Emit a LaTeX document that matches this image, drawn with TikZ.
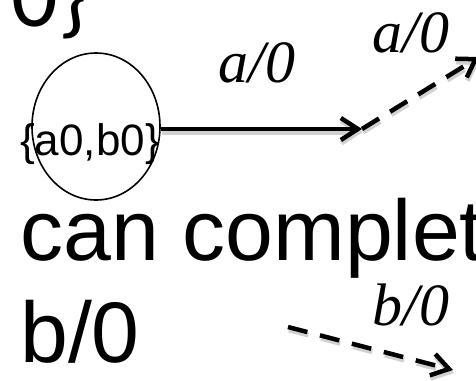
\documentclass[tikz,border=0pt]{standalone}
\usepackage{fontspec}
\setmainfont{Liberation Sans}
\newfontfamily\timesf{Liberation Serif}
\newfontfamily\calib{Carlito}
\usetikzlibrary{arrows.meta,shapes.geometric}

\tikzset{
  bigtext/.style={inner sep=0pt, font=\fontsize{86}{86}\selectfont},
  headtext/.style={inner sep=0pt, font=\fontsize{92}{92}\selectfont\calib},
  edgelabel/.style={inner sep=0pt, font=\fontsize{60}{60}\selectfont\timesf\itshape},
  statebox/.style={draw, ellipse, line width=1.6pt, minimum width=128pt, minimum height=147pt, inner sep=0pt},
  shade below/.style={preaction={draw=black!18, line width=5pt, transform canvas={shift={(1pt,-3pt)}}}},
  trans/.style={line width=4.5pt, -{Straight Barb[length=17pt,width=22pt]}},
  dashes/.style={dash pattern=on 20pt off 13pt},
  guess/.style={trans, dashes},
  shade dashed/.style={preaction={draw=black!18, line width=5pt, dashes, transform canvas={shift={(1pt,-3pt)}}}},
}

\begin{document}
\begin{tikzpicture}[x=1pt,y=-1pt]
  \useasboundingbox (0,0) rectangle (476,380);

  % tail of the heading line above
  \node[headtext, anchor=base west] (head) at (-24,27) {/0\}};

  % state {a0,b0}
  \node[statebox] (s0) at (96,126.5) {};
  \node[inner sep=0pt, anchor=base, font=\fontsize{44}{44}\selectfont] (s0text) at (90,155) {\{a0,b0\}};

  % transitions
  \coordinate (mid) at (362,129);
  \coordinate (upend) at (479,57);
  \coordinate (bstart) at (288,327);
  \coordinate (bend) at (453,370);

  \draw[trans, shade below] (s0.east |- mid) -- (mid);
  \draw[guess, shade dashed] (mid) -- (upend);
  \draw[guess, shade dashed] (bstart) -- (bend);

  \node[edgelabel, anchor=base] (la1) at (257,82) {a/0};
  \node[edgelabel, anchor=base] (la2) at (411,52) {a/0};
  \node[edgelabel, anchor=base] (lb) at (411,325) {b/0};

  % body text
  \node[bigtext, anchor=base west] (line1) at (20,260) {can complet};
  \node[bigtext, anchor=base west] (line2) at (20,362) {b/0};
\end{tikzpicture}
\end{document}
